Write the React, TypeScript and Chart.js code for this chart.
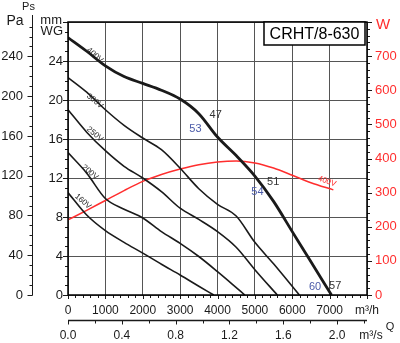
import React, { useEffect, useRef } from 'react';
import { Chart, registerables } from 'chart.js';

Chart.register(...registerables);

// ---- data (flow in m³/h, static pressure in mm WG, power in W) ----
const q400 = [0, 500, 1000, 1500, 2000, 2500, 3000, 3500, 4000, 4500, 5000, 5500, 6000, 6500, 7050];
const p400 = [26.4, 25.0, 23.5, 22.4, 21.7, 21.0, 20.1, 18.6, 16.2, 14.3, 12.2, 9.6, 6.5, 3.4, 0];

const q300 = [0, 500, 1000, 1500, 2000, 2500, 3000, 3500, 4000, 4500, 5000, 5500, 6190];
const p300 = [22.3, 20.8, 19.0, 17.4, 16.1, 14.9, 13.0, 10.9, 9.3, 8.1, 5.4, 3.2, 0];

const q250 = [0, 500, 1000, 1500, 2000, 2500, 3000, 3500, 4000, 4500, 5000, 5600];
const p250 = [19.0, 16.7, 14.8, 13.2, 12.0, 10.6, 8.9, 7.75, 6.5, 4.9, 2.6, 0];

const q200 = [0, 500, 1000, 1500, 2000, 2500, 3000, 3500, 4000, 4400, 4730];
const p200 = [14.6, 12.5, 9.9, 8.8, 7.9, 6.5, 5.3, 3.95, 2.4, 1.1, 0];

const q160 = [0, 500, 1000, 1500, 2000, 2500, 3000, 3500, 3900];
const p160 = [10.5, 8.2, 6.6, 5.4, 4.3, 3.15, 2.05, 0.9, 0];

const qPower = [0, 500, 1000, 1500, 2000, 2500, 3000, 3500, 4000, 4500, 5000, 5500, 6000, 6500, 7100];
const wPower = [220, 248, 277, 306, 333, 353, 369, 382, 390, 393, 387, 372, 351, 329, 308];

const curveNames = ['400V', '300V', '250V', '200V', '160V'];
const powerName = '400V';
const modelName = 'CRHT/8-630';

// annotation texts and their data positions
const noteTexts = ['47', '53', '51', '54', '60', '57'];
const noteQ = [3950, 3410, 5490, 5070, 6610, 7150];
const noteP = [18.5, 17.0, 11.6, 10.6, 0.8, 0.9];
const noteBlue = [false, true, false, true, true, false];

// curve-name label positions (data coords)
const nameQ = [720, 720, 720, 590, 400];
const nameP = [24.6, 19.9, 16.5, 12.6, 9.6];
const powerNameQ = 6930;
const powerNameW = 333;

// axis ranges
const QMAX = 8000;
const MMMAX = 28;
const PA_PER_MM = 9.80665;
const WMAX = 800;

const FONT = '"Liberation Sans", Arial, Helvetica, sans-serif';
const RED = '#ff2e2e';
const BLUE = '#4a5aa8';
const INK = '#1a1a1a';

const pts = (xs: number[], ys: number[]) => xs.map((x, i) => ({ x, y: ys[i] }));

const decor = {
  id: 'decor',
  afterDraw(chart: any) {
    const { ctx, chartArea: a, scales } = chart;
    const sx = scales.x, sy = scales.y, spa = scales.pa, sq = scales.q2, sw = scales.w;
    ctx.save();
    ctx.strokeStyle = INK;
    ctx.lineWidth = 1;
    const seg = (x1: number, y1: number, x2: number, y2: number) => {
      ctx.beginPath(); ctx.moveTo(x1, y1); ctx.lineTo(x2, y2); ctx.stroke();
    };
    const al = (v: number) => Math.round(v) + 0.5;

    // mm WG ticks
    for (let v = 0; v <= MMMAX; v += 1) {
      const py = al(sy.getPixelForValue(v));
      seg(a.left - (v % 4 === 0 ? 5 : 3), py, a.left, py);
    }
    // Pa axis line and ticks
    const paX = al(spa.right);
    seg(paX, a.top - 7, paX, a.bottom + 0.5);
    for (let v = 0; v <= MMMAX * PA_PER_MM; v += 10) {
      const py = al(spa.getPixelForValue(v));
      seg(paX - (v % 40 === 0 ? 5 : 3), py, paX, py);
    }
    // m³/h ticks
    for (let v = 0; v <= QMAX; v += 200) {
      const px = al(sx.getPixelForValue(v));
      seg(px, a.bottom, px, a.bottom + (v % 1000 === 0 ? 4 : 3));
    }
    // m³/s axis line and ticks
    const qy = al(sq.top);
    ctx.lineWidth = 1.5;
    seg(a.left, qy, a.right, qy);
    ctx.lineWidth = 1;
    for (let i = 0; i <= 11; i++) {
      const v = i * 0.2;
      const px = al(sq.getPixelForValue(v));
      seg(px, qy, px, qy + (i % 2 === 0 ? 4 : 3));
    }
    // W ticks
    for (let v = 0; v <= WMAX; v += 20) {
      const py = al(sw.getPixelForValue(v));
      seg(a.right, py, a.right + (v % 100 === 0 ? 5 : 3), py);
    }
    // plot frame
    ctx.lineWidth = 1.5;
    ctx.strokeStyle = '#000';
    ctx.strokeRect(a.left, a.top, a.right - a.left, a.bottom - a.top);

    // axis titles
    const txt = (s: string, x: number, y: number, size: number, color: string, align: CanvasTextAlign) => {
      ctx.font = `${size}px ${FONT}`;
      ctx.fillStyle = color;
      ctx.textAlign = align;
      ctx.textBaseline = 'middle';
      ctx.fillText(s, x, y);
    };
    txt('Ps', paX - 4, a.top - 15, 11, INK, 'center');
    txt('Pa', paX - 9, a.top - 1, 14, INK, 'right');
    txt('mm', a.left - 6, a.top - 2, 13, INK, 'right');
    txt('WG', a.left - 5, a.top + 9, 13, INK, 'right');
    txt('W', a.right + 9, a.top + 3, 15, RED, 'left');
    txt('m³/s', a.right + 4, qy + 15, 12, INK, 'center');
    txt('Q', a.right + 23, qy + 6, 11, INK, 'center');

    // curve names (rotated)
    const rot = (s: string, x: number, y: number, deg: number, size: number, color: string) => {
      ctx.save();
      ctx.translate(x, y);
      ctx.rotate((deg * Math.PI) / 180);
      ctx.font = `${size}px ${FONT}`;
      ctx.fillStyle = color;
      ctx.textAlign = 'center';
      ctx.textBaseline = 'middle';
      ctx.fillText(s, 0, 0);
      ctx.restore();
    };
    curveNames.forEach((n, i) => {
      rot(n, sx.getPixelForValue(nameQ[i]), sy.getPixelForValue(nameP[i]), 40, 8, INK);
    });
    rot(powerName, sx.getPixelForValue(powerNameQ), sw.getPixelForValue(powerNameW), 20, 8, RED);

    // efficiency notes
    noteTexts.forEach((n, i) => {
      txt(n, sx.getPixelForValue(noteQ[i]), sy.getPixelForValue(noteP[i]), 11, noteBlue[i] ? BLUE : '#333', 'center');
    });

    // model box
    const bw = 101, bh = 23;
    const bx = a.right - bw - 2, by = a.top;
    ctx.fillStyle = '#fff';
    ctx.fillRect(bx, by, bw, bh);
    ctx.lineWidth = 1.5;
    ctx.strokeStyle = '#000';
    ctx.strokeRect(bx, by, bw, bh);
    txt(modelName, bx + bw / 2, by + bh / 2 + 1, 16, '#000', 'center');
    ctx.restore();
  },
};

export default function App() {
  const ref = useRef<HTMLCanvasElement | null>(null);
  useEffect(() => {
    if (!ref.current) return;
    Chart.defaults.font.family = FONT;
    const common = { pointRadius: 0, cubicInterpolationMode: 'monotone' as const, fill: false, borderColor: INK };
    const chart = new Chart(ref.current, {
      type: 'line',
      data: {
        datasets: [
          { ...common, label: curveNames[0], data: pts(q400, p400), borderWidth: 2.8, yAxisID: 'y' },
          { ...common, label: curveNames[1], data: pts(q300, p300), borderWidth: 1.6, yAxisID: 'y' },
          { ...common, label: curveNames[2], data: pts(q250, p250), borderWidth: 1.6, yAxisID: 'y' },
          { ...common, label: curveNames[3], data: pts(q200, p200), borderWidth: 1.6, yAxisID: 'y' },
          { ...common, label: curveNames[4], data: pts(q160, p160), borderWidth: 1.6, yAxisID: 'y' },
          { ...common, label: 'W ' + powerName, data: pts(qPower, wPower), borderColor: RED, borderWidth: 1.5, yAxisID: 'w' },
        ],
      },
      options: {
        animation: false,
        responsive: false,
        maintainAspectRatio: false,
        layout: { padding: { top: 22, left: 0, right: 0, bottom: 0 } },
        plugins: { legend: { display: false }, tooltip: { enabled: false } },
        scales: {
          x: {
            type: 'linear', position: 'bottom', min: 0, max: QMAX, weight: 0,
            ticks: {
              stepSize: 1000, autoSkip: false, maxRotation: 0, padding: 8, color: INK,
              font: { size: 12 },
              callback: (v: any) => (v === QMAX ? 'm³/h' : String(v)),
            },
            grid: { color: '#555', lineWidth: 1, drawTicks: false },
            border: { display: false },
            afterFit: (s: any) => { s.height = 25; },
          },
          q2: {
            type: 'linear', position: 'bottom', min: 0, max: QMAX / 3600, weight: 1,
            ticks: {
              stepSize: 0.4, includeBounds: false, autoSkip: false, maxRotation: 0, padding: 8, color: INK,
              font: { size: 12 },
              callback: (v: any) => Number(v).toFixed(1),
            },
            grid: { display: false, drawTicks: false },
            border: { display: false },
            afterFit: (s: any) => { s.height = 23; },
          },
          y: {
            type: 'linear', position: 'left', min: 0, max: MMMAX, weight: 0,
            ticks: {
              stepSize: 4, padding: 5, color: INK, font: { size: 13 },
              callback: (v: any) => (v === MMMAX ? '' : String(v)),
            },
            grid: { color: '#555', lineWidth: 1, drawTicks: false },
            border: { display: false },
            afterFit: (s: any) => { s.width = 36; },
          },
          pa: {
            type: 'linear', position: 'left', min: 0, max: MMMAX * PA_PER_MM, weight: 1,
            ticks: { stepSize: 40, includeBounds: false, padding: 9, color: INK, font: { size: 13 } },
            grid: { display: false, drawTicks: false },
            border: { display: false },
            afterFit: (s: any) => { s.width = 32; },
          },
          w: {
            type: 'linear', position: 'right', min: 0, max: WMAX,
            ticks: {
              stepSize: 100, padding: 8, color: RED, font: { size: 13 },
              callback: (v: any) => (v === WMAX ? '' : String(v)),
            },
            grid: { display: false, drawTicks: false },
            border: { display: false },
            afterFit: (s: any) => { s.width = 33; },
          },
        },
      } as any,
      plugins: [decor],
    });
    return () => chart.destroy();
  }, []);
  return (
    <div style={{ position: 'fixed', left: 0, top: 0, width: 400, height: 343, background: '#fff' }}>
      <canvas ref={ref} width={400} height={343} style={{ width: 400, height: 343, display: 'block' }} />
    </div>
  );
}
